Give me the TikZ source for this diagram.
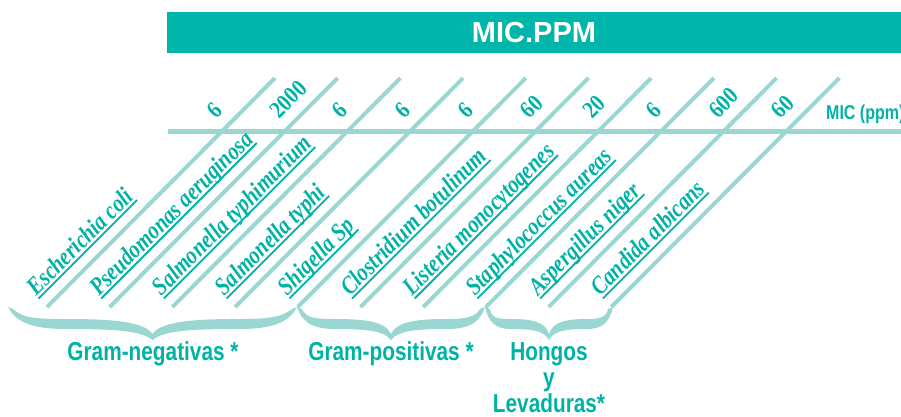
\documentclass[tikz,border=0pt]{standalone}
\usepackage{fontspec}
\setmainfont{Liberation Serif}
\newfontfamily\spfont[FakeStretch=0.83]{Liberation Serif}
\newfontfamily\numfont[FakeStretch=0.86]{Liberation Serif}
\newfontfamily\cfont[FakeStretch=0.8]{Liberation Sans}
\newfontfamily\tfont{Liberation Sans}
\usetikzlibrary{calc}
\definecolor{tealtext}{HTML}{00B2A6}
\definecolor{tealbar}{HTML}{00B5A9}
\definecolor{lteal}{HTML}{9AD7D2}
\tikzset{
  gridline/.style={draw=lteal, line width=4pt},
  species/.style={rotate=45, anchor=base west, inner sep=0pt, text=tealtext,
    font=\spfont\bfseries\itshape\fontsize{25}{25}\selectfont},
  micnum/.style={rotate=45, anchor=base west, inner sep=0pt, text=tealtext,
    font=\numfont\bfseries\fontsize{24}{24}\selectfont},
  grouplabel/.style={text=tealtext, anchor=base, inner sep=0pt,
    font=\cfont\bfseries\fontsize{26}{26}\selectfont},
  ulline/.style={draw=tealtext, line width=1.8pt},
  bracefill/.style={fill=lteal},
  titlebar/.style={fill=tealbar, text=white, inner sep=0pt,
    minimum width=734pt, minimum height=41pt,
    font=\tfont\bfseries\fontsize{29}{29}\selectfont},
  unitlabel/.style={text=tealtext, anchor=base west, inner sep=0pt,
    font=\cfont\bfseries\fontsize{20}{20}\selectfont},
}
\newcommand\mybrace[3]{%
  \pgfmathsetmacro\bxa{#1}%
  \pgfmathsetmacro\bxb{#2}%
  \pgfmathsetmacro\by{#3}%
  \pgfmathsetmacro\bxm{(\bxa+\bxb)/2}%
  \pgfmathsetmacro\bL{(\bxb-\bxa)/2}%
  \fill[bracefill]
    (\bxa,\by)
    .. controls (\bxa+0.05*\bL,\by+14) and (\bxa+0.15*\bL,\by+22) .. (\bxa+0.4*\bL,\by+22)
    .. controls (\bxa+0.7*\bL,\by+22) and (\bxm-0.08*\bL,\by+23) .. (\bxm,\by+33)
    .. controls (\bxm+0.08*\bL,\by+23) and (\bxm+0.3*\bL,\by+22) .. (\bxm+0.6*\bL,\by+22)
    .. controls (\bxm+0.85*\bL,\by+22) and (\bxm+0.95*\bL,\by+14) .. (\bxb,\by)
    -- (\bxb-5,\by+2)
    .. controls (\bxb-0.1*\bL,\by+10) and (\bxm+0.8*\bL,\by+12) .. (\bxm+0.6*\bL,\by+12)
    .. controls (\bxm+0.3*\bL,\by+12) and (\bxm+0.06*\bL,\by+14) .. (\bxm,\by+27)
    .. controls (\bxm-0.06*\bL,\by+14) and (\bxa+0.7*\bL,\by+12) .. (\bxa+0.4*\bL,\by+12)
    .. controls (\bxa+0.15*\bL,\by+12) and (\bxa+0.1*\bL,\by+10) .. (\bxa+5,\by+2)
    -- cycle;
}
\begin{document}
\begin{tikzpicture}[x=1pt,y=-1pt]
\useasboundingbox (0,0) rectangle (901,416);
% title bar
\node[titlebar] (title) at (534,32.5) {MIC.PPM};
% horizontal axis line
\coordinate (hl) at (168,131.5);
\coordinate (hr) at (901,131.5);
\draw[gridline, line width=4.5pt] (hl) -- (hr);
\node[unitlabel] (unit) at (826,119) {MIC (ppm)};
% diagonal lines, species and values
\foreach \i/\sp/\num in {1/Escherichia coli/6, 2/Pseudomonas aeruginosa/2000,
  3/Salmonella typhimurium/6, 4/Salmonella typhi/6, 5/Shigella Sp/6,
  6/Clostridium botulinum/60, 7/Listeria monocytogenes/20,
  8/Staphylococcus aureas/6, 9/Aspergillus niger/600, 10/Candida albicans/60}{
  \pgfmathsetmacro\xt{275+62.7*(\i-1)}
  \pgfmathsetmacro\xb{\xt-228}
  \coordinate (t\i) at (\xt,78);
  \coordinate (b\i) at (\xb,307);
  \draw[gridline] (b\i) -- (t\i);
  \node[species] (s\i) at ($(b\i)+(-10.6,-10.6)$) {\sp};
  \draw[ulline] ($(s\i.base west)!3pt!-90:(s\i.base east)$) -- ($(s\i.base east)!3pt!90:(s\i.base west)$);
  \node[micnum] (n\i) at ($(t\i)+(-58.7,41.7)$) {\num};
}
% braces
\mybrace{8}{297}{307}
\mybrace{297}{485}{307}
\mybrace{485}{613}{307}
% group labels
\node[grouplabel] (gneg) at (153,360) {Gram-negativas *};
\node[grouplabel] (gpos) at (391,360) {Gram-positivas *};
\node[grouplabel] (hong) at (549,360) {Hongos};
\node[grouplabel] (yy) at (549,386) {y};
\node[grouplabel] (lev) at (549,412) {Levaduras*};
\end{tikzpicture}
\end{document}
